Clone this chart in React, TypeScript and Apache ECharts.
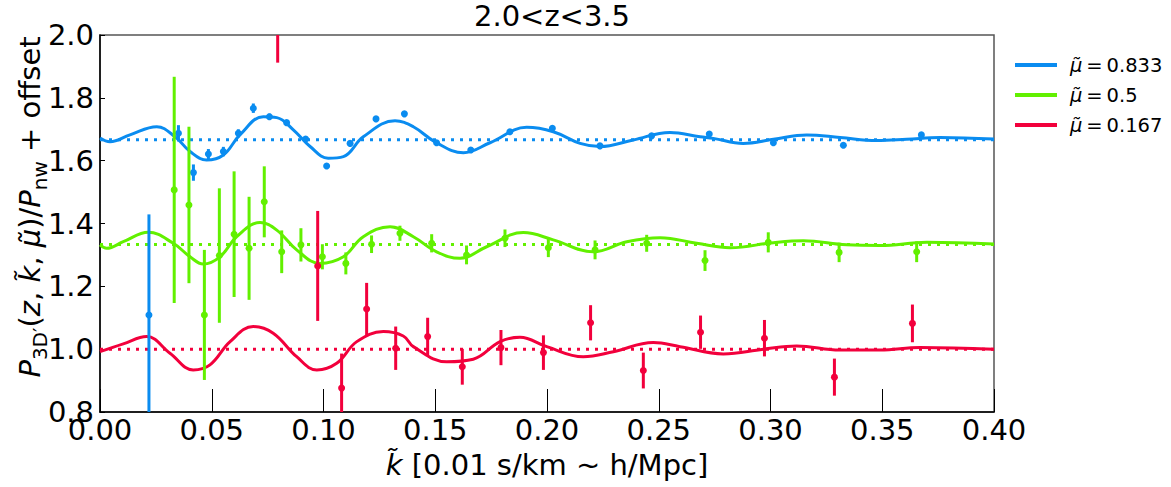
import React, { useEffect, useRef } from "react";
import * as echarts from "echarts";

// ---------- data ----------
const titleText = "2.0<z<3.5";
const seriesNames = ["μ̃ = 0.833", "μ̃ = 0.5", "μ̃ = 0.167"];
const seriesColors = ["#0a8cf0", "#62f000", "#f2003c"];
const offsets = [5 / 3, 4 / 3, 1.0];

// model curves [k, value]
const blueCurve = [
  [0, 1.672], [0.0045, 1.66], [0.0134, 1.682], [0.0254, 1.708], [0.0336, 1.676],
  [0.0403, 1.629], [0.0477, 1.602], [0.0552, 1.618], [0.0626, 1.682], [0.0731, 1.74],
  [0.0791, 1.737], [0.0865, 1.698], [0.094, 1.645], [0.1021, 1.608], [0.1089, 1.613],
  [0.1178, 1.676], [0.132, 1.727], [0.1402, 1.708], [0.1499, 1.66], [0.1626, 1.625],
  [0.1745, 1.657], [0.1909, 1.706], [0.2028, 1.692], [0.2148, 1.655], [0.2237, 1.645],
  [0.2386, 1.666], [0.255, 1.69], [0.2685, 1.676], [0.2744, 1.671], [0.2878, 1.655],
  [0.3013, 1.668], [0.3162, 1.682], [0.3311, 1.674], [0.3475, 1.664], [0.3609, 1.668],
  [0.3758, 1.674], [0.4, 1.669],
];
const greenCurve = [
  [0, 1.332], [0.003, 1.321], [0.0104, 1.342], [0.0216, 1.372], [0.0328, 1.337],
  [0.0403, 1.294], [0.0462, 1.271], [0.0537, 1.294], [0.0612, 1.358], [0.0716, 1.403],
  [0.0791, 1.379], [0.088, 1.316], [0.0984, 1.273], [0.1089, 1.294], [0.1178, 1.358],
  [0.1298, 1.39], [0.1402, 1.358], [0.1506, 1.31], [0.1611, 1.289], [0.173, 1.326],
  [0.1894, 1.371], [0.2028, 1.348], [0.2207, 1.31], [0.2357, 1.342], [0.2506, 1.355],
  [0.267, 1.337], [0.2819, 1.323], [0.3013, 1.339], [0.3147, 1.345], [0.3341, 1.332],
  [0.349, 1.33], [0.3699, 1.34], [0.4, 1.335],
];
const redCurve = [
  [0, 0.992], [0.0104, 1.017], [0.0209, 1.04], [0.0313, 0.987], [0.0417, 0.934],
  [0.0492, 0.95], [0.0582, 1.024], [0.0686, 1.072], [0.0775, 1.051], [0.088, 0.976],
  [0.097, 0.934], [0.1059, 0.955], [0.1149, 1.024], [0.1268, 1.056], [0.1357, 1.042],
  [0.1402, 1.008], [0.1551, 0.96], [0.167, 0.968], [0.179, 1.024], [0.1879, 1.038],
  [0.1999, 1.008], [0.2162, 0.976], [0.2297, 0.992], [0.2476, 1.021], [0.2595, 1.008],
  [0.2789, 0.985], [0.2968, 1.0], [0.3117, 1.01], [0.3311, 0.997], [0.349, 0.997],
  [0.3669, 1.005], [0.4, 1.0],
];

// measurements [k, value, error]
const bluePoints = [
  [0.0219, 1.109, 0.32], [0.0351, 1.687, 0.026], [0.0418, 1.562, 0.026], [0.0485, 1.621, 0.016],
  [0.0552, 1.629, 0.015], [0.0619, 1.687, 0.013], [0.0686, 1.767, 0.015], [0.0758, 1.74, 0.01],
  [0.0835, 1.721, 0.008], [0.092, 1.669, 0.006], [0.1014, 1.583, 0.005], [0.1119, 1.655, 0.005],
  [0.1235, 1.733, 0.004], [0.1362, 1.749, 0.004], [0.1506, 1.657, 0.004], [0.1659, 1.634, 0.004],
  [0.1834, 1.692, 0.004], [0.2024, 1.703, 0.004], [0.2237, 1.647, 0.004], [0.2468, 1.679, 0.004],
  [0.2726, 1.685, 0.004], [0.3013, 1.657, 0.004], [0.3326, 1.649, 0.004], [0.3675, 1.682, 0.004],
];
const greenPoints = [
  [0.0332, 1.507, 0.36], [0.0398, 1.459, 0.249], [0.0467, 1.109, 0.207], [0.0534, 1.298, 0.214],
  [0.06, 1.366, 0.2], [0.0667, 1.321, 0.164], [0.0735, 1.469, 0.113], [0.0813, 1.31, 0.068],
  [0.0899, 1.332, 0.053], [0.0995, 1.294, 0.04], [0.11, 1.273, 0.035], [0.1215, 1.334, 0.028],
  [0.1342, 1.369, 0.024], [0.1484, 1.337, 0.029], [0.164, 1.3, 0.03], [0.1812, 1.353, 0.028],
  [0.2006, 1.323, 0.03], [0.2215, 1.316, 0.03], [0.2446, 1.337, 0.027], [0.2707, 1.282, 0.033],
  [0.299, 1.34, 0.032], [0.3307, 1.308, 0.031], [0.3654, 1.31, 0.033],
];
const redPoints = [
  [0.0795, 2.1, 0.188], [0.0974, 1.265, 0.175], [0.1081, 0.876, 0.11], [0.1193, 1.128, 0.083],
  [0.1323, 1.003, 0.069], [0.1466, 1.04, 0.06], [0.1621, 0.944, 0.057], [0.1794, 1.005, 0.056],
  [0.1984, 0.989, 0.055], [0.2195, 1.084, 0.056], [0.2431, 0.932, 0.057], [0.2687, 1.054, 0.053],
  [0.2973, 1.035, 0.058], [0.3286, 0.911, 0.059], [0.3635, 1.082, 0.06],
];

const xMin = 0, xMax = 0.4, xStep = 0.05;
const yMin = 0.8, yMax = 2.0, yStep = 0.2;

const FONT = "DejaVu Sans";

export default function App() {
  const ref = useRef<HTMLDivElement>(null);
  useEffect(() => {
    if (!ref.current) return;
    const chart = echarts.init(ref.current, null, { renderer: "svg" });
    const curves = [blueCurve, greenCurve, redCurve];
    const points = [bluePoints, greenPoints, redPoints];

    const series: any[] = [];
    for (let i = 0; i < 3; i++) {
      const color = seriesColors[i];
      series.push({
        name: seriesNames[i],
        type: "line",
        data: curves[i],
        smooth: 0.4,
        showSymbol: false,
        symbol: "none",
        color,
        lineStyle: { color, width: 3 },
        z: 2,
        clip: true,
      });
      series.push({
        name: "ref" + i,
        type: "line",
        data: [[xMin, offsets[i]], [xMax, offsets[i]]],
        showSymbol: false,
        symbol: "none",
        lineStyle: { color, width: 3, type: [3, 6], cap: "butt" },
        z: 3,
      });
      series.push({
        name: "data" + i,
        type: "custom",
        data: points[i],
        clip: true,
        z: 5,
        encode: { x: 0, y: 1 },
        renderItem: (params: any, api: any) => {
          const k = api.value(0), v = api.value(1), e = api.value(2);
          const top = api.coord([k, v + e]);
          const bot = api.coord([k, v - e]);
          const c = api.coord([k, v]);
          return {
            type: "group",
            children: [
              { type: "line", shape: { x1: top[0], y1: top[1], x2: bot[0], y2: bot[1] }, style: { stroke: color, lineWidth: 3 } },
              { type: "circle", shape: { cx: c[0], cy: c[1], r: 3.5 }, style: { fill: color } },
            ],
          };
        },
      });
    }

    const italicRich = {
      i: { fontFamily: FONT, fontStyle: "italic", fontSize: 19.5, color: "#000" },
      n: { fontFamily: FONT, fontSize: 19.5, color: "#000" },
    };

    chart.setOption({
      animation: false,
      title: {
        text: titleText,
        left: 547,
        top: -4,
        textAlign: "center",
        textStyle: { fontFamily: FONT, fontSize: 29, fontWeight: "normal", color: "#000" },
      },
      legend: {
        data: seriesNames,
        orient: "vertical",
        left: 1010,
        top: 50,
        icon: "rect",
        itemWidth: 42,
        itemHeight: 4,
        itemGap: 10,
        formatter: (name: string) => "{i|μ̃}{n|\u2009=\u2009" + name.split("= ")[1] + "}",
        textStyle: { fontFamily: FONT, fontSize: 19.5, lineHeight: 20, padding: [0, 0, 0, 8], rich: italicRich },
      },
      grid: {
        left: 100,
        right: 177,
        top: 35,
        bottom: 75,
        show: true,
        borderColor: "#555",
        borderWidth: 1.5,
        backgroundColor: "transparent",
      },
      xAxis: {
        type: "value",
        min: xMin,
        max: xMax,
        interval: xStep,
        name: "{i|k̃} [0.01 s/km ~ h/Mpc]",
        nameLocation: "middle",
        nameGap: 38,
        nameTextStyle: {
          fontFamily: FONT,
          fontSize: 29,
          color: "#000",
          rich: { i: { fontFamily: FONT, fontSize: 29, fontStyle: "italic", color: "#000" } },
        },
        axisLine: { show: true, lineStyle: { color: "#000", width: 1.5 } },
        axisTick: { show: true, inside: true, length: 23, lineStyle: { color: "#000", width: 1 } },
        axisLabel: {
          fontFamily: FONT,
          fontSize: 29,
          color: "#000",
          margin: 3,
          formatter: (v: number) => v.toFixed(2),
        },
        splitLine: { show: false },
      },
      yAxis: {
        type: "value",
        min: yMin,
        max: yMax,
        interval: yStep,
        axisLine: { show: true, lineStyle: { color: "#000", width: 1.5 } },
        axisTick: { show: true, inside: true, length: 5, lineStyle: { color: "#000", width: 1 } },
        axisLabel: {
          fontFamily: FONT,
          fontSize: 29,
          color: "#000",
          margin: 6,
          formatter: (v: number) => v.toFixed(1),
        },
        splitLine: { show: false },
      },
      graphic: [
        {
          type: "text",
          x: 30,
          y: 207,
          rotation: Math.PI / 2,
          style: {
            text: "{p|P}{s|3D′}{m|(}{p|z}{m|, }{p|k̃}{m|, }{p|μ̃}{m|)/}{p|P}{s|nw}{m| + offset}",
            align: "center",
            verticalAlign: "middle",
            fill: "#000",
            rich: {
              p: { fontFamily: FONT, fontSize: 29, fontStyle: "italic", lineHeight: 40, fill: "#000" },
              m: { fontFamily: FONT, fontSize: 29, lineHeight: 40, fill: "#000" },
              s: { fontFamily: FONT, fontSize: 20, lineHeight: 20, verticalAlign: "bottom", fill: "#000" },
            },
          },
        },
      ],
      series,
    });
    return () => chart.dispose();
  }, []);
  return <div ref={ref} style={{ position: "absolute", left: 0, top: 0, width: 1171, height: 487 }} />;
}
